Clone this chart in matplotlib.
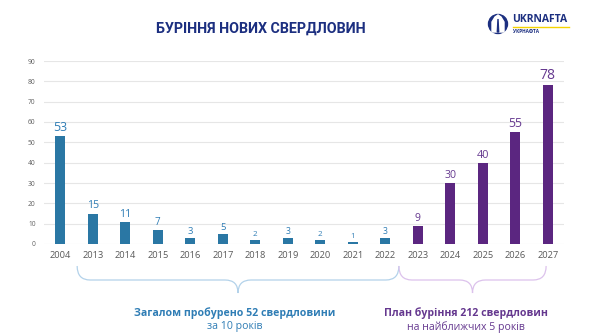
import numpy as np
import matplotlib
matplotlib.use("Agg")
import matplotlib.pyplot as plt
from matplotlib.path import Path
from matplotlib.patches import PathPatch, Circle, Polygon
from matplotlib.transforms import blended_transform_factory

# -------------------- data --------------------
years = ["2004", "2013", "2014", "2015", "2016", "2017", "2018", "2019",
         "2020", "2021", "2022", "2023", "2024", "2025", "2026", "2027"]
wells = [53, 15, 11, 7, 3, 5, 2, 3, 2, 1, 3, 9, 30, 40, 55, 78]
n_actual = 11  # first 11 years are drilled, the rest is the plan

title = "БУРІННЯ НОВИХ СВЕРДЛОВИН"
done_text = ("Загалом пробурено 52 свердловини", "за 10 років")
plan_text = ("План буріння 212 свердловин", "на найближчих 5 років")

# -------------------- style --------------------
BLUE = "#2A77A4"
BLUE_TXT = "#2F7DB5"
PURPLE = "#5B2680"
PURPLE_TXT = "#65388F"
NAVY = "#1C2F80"
label_sizes = [9.0, 7.6, 7.6, 7.0, 6.8, 6.8, 5.8, 6.2, 5.8, 5.6, 6.2,
               7.6, 7.6, 7.8, 8.8, 10]

plt.rcParams["font.family"] = ["Open Sans", "DejaVu Sans"]

W, H = 600, 336
fig = plt.figure(figsize=(W / 100, H / 100), dpi=100)
fig.patch.set_facecolor("white")

ax = fig.add_axes([44 / W, 1 - 244 / H, 520 / W, 183 / H])
x = np.arange(len(years))
colors = [BLUE if i < n_actual else PURPLE for i in range(len(years))]
ax.bar(x, wells, width=0.32, color=colors, zorder=3)

for i, v in enumerate(wells):
    ax.annotate(str(v), (x[i], v), xytext=(0, 1.5), textcoords="offset points",
                ha="center", va="bottom", fontsize=label_sizes[i],
                color=BLUE_TXT if i < n_actual else PURPLE_TXT)

ax.set_xlim(-0.5, len(years) - 0.5)
ax.set_ylim(0, 90)
ax.set_yticks(range(0, 91, 10))
ax.set_xticks(x)
ax.set_xticklabels(years)
ax.grid(axis="y", color="#E6E6E6", linewidth=0.8, zorder=0)
for s in ax.spines.values():
    s.set_visible(False)
ax.tick_params(axis="y", length=0, labelsize=4.8, labelcolor="#606060", pad=6)
ax.tick_params(axis="x", length=0, labelsize=6.7, labelcolor="#595959", pad=5)

# -------------------- title --------------------
fig.text(0.434, 1 - 29 / H, title, ha="center", va="center",
         family=["Roboto", "DejaVu Sans"],
         fontsize=10.3, fontweight="bold", color=NAVY)

# -------------------- braces --------------------
btr = blended_transform_factory(ax.transData, fig.transFigure)


def brace(x0, x1, color, r=0.4):
    yt, ym, yb = 1 - 266 / H, 1 - 280 / H, 1 - 293 / H
    xm = (x0 + x1) / 2
    verts = [(x0, yt), (x0, ym), (x0 + r, ym),
             (xm - r, ym), (xm, ym), (xm, yb),
             (xm, ym), (xm + r, ym),
             (x1 - r, ym), (x1, ym), (x1, yt)]
    codes = [Path.MOVETO, Path.CURVE3, Path.CURVE3,
             Path.LINETO, Path.CURVE3, Path.CURVE3,
             Path.CURVE3, Path.CURVE3,
             Path.LINETO, Path.CURVE3, Path.CURVE3]
    fig.add_artist(PathPatch(Path(verts, codes), transform=btr, fill=False,
                             edgecolor=color, linewidth=0.9))
    return xm


xm1 = brace(0.52, 10.42, "#B3D2EA")
xm2 = brace(10.42, 14.95, "#DCC2EC")

fig.text(xm1 - 0.1, 1 - 313 / H, done_text[0], transform=btr, ha="center",
         va="center", fontsize=7.6, fontweight="bold", color=BLUE_TXT)
fig.text(xm1 - 0.1, 1 - 327 / H, done_text[1], transform=btr, ha="center",
         va="center", fontsize=7.6, color=BLUE_TXT)
fig.text(xm2 - 0.2, 1 - 313 / H, plan_text[0], transform=btr, ha="center",
         va="center", fontsize=7.6, fontweight="bold", color=PURPLE_TXT)
fig.text(xm2 - 0.2, 1 - 327 / H, plan_text[1], transform=btr, ha="center",
         va="center", fontsize=7.6, color=PURPLE_TXT)

# -------------------- logo --------------------
px = fig.dpi_scale_trans


def P(xp, yp):
    return (xp / 100, (H - yp) / 100)


fig.add_artist(Circle(P(498, 24), 0.095, transform=px, color=NAVY))
arch = [P(492, 32), P(492, 22), P(495, 17), P(498, 15), P(501, 17),
        P(504, 22), P(504, 32)]
fig.add_artist(Polygon(arch, closed=True, transform=px, color="white"))
fig.add_artist(Polygon([P(497.3, 32), P(498, 19), P(498.7, 32)], closed=True,
                       transform=px, color=NAVY))
fig.text(*P(512, 20), "UKRNAFTA", transform=px, ha="left", va="center",
         fontsize=7.5, fontweight="bold", color=NAVY)
fig.add_artist(plt.Line2D([5.13, 5.69], [(H - 27) / 100] * 2, transform=px,
                          color="#F5D300", linewidth=1.0))
fig.text(*P(513, 31.5), "УКРНАФТА", transform=px, ha="left", va="center",
         fontsize=3.4, fontweight="bold", color=NAVY)

fig.savefig("out.png", dpi=100, facecolor="white")
